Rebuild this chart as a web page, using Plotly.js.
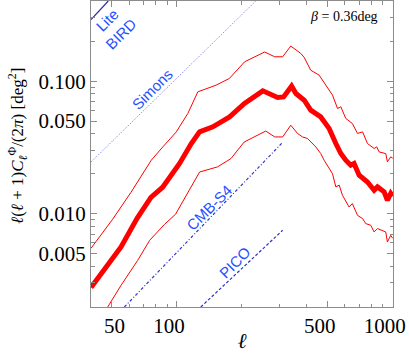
<!DOCTYPE html>
<html>
<head>
<meta charset="utf-8">
<script src="https://cdn.plot.ly/plotly-3.0.1.min.js"></script>
<style>html,body{margin:0;padding:0;background:#fff;}#chart{width:409px;height:353px;}</style>
</head>
<body>
<div id="chart"></div>
<script>
// ---- data ----
const ellMid = [40, 47.8, 55.1, 65.4, 75.8, 85.9, 90.9, 102.9, 116.6, 127.4, 146.8, 175.4, 205.7, 250, 293, 312, 340, 356, 389, 417, 464, 508, 545, 575, 606, 639, 662, 699, 764, 820, 850, 912, 945, 979, 1000];
const cMid   = [0.00277, 0.00406, 0.0056, 0.0092, 0.01327, 0.0158, 0.01787, 0.0239, 0.0338, 0.0414, 0.0452, 0.0537, 0.0678, 0.0845, 0.0753, 0.076, 0.0917, 0.0807, 0.0718, 0.0604, 0.0537, 0.0438, 0.0338, 0.0284, 0.0253, 0.0232, 0.0239, 0.0195, 0.0173, 0.015, 0.0159, 0.0146, 0.0126, 0.0142, 0.0135];

const ellUp = [40, 50.4, 61.3, 76.1, 86.1, 99.4, 112.4, 125, 152, 175, 206, 255, 284, 309, 337, 375, 389, 417, 456, 499, 526, 555, 575, 606, 650, 687, 725, 764, 820, 843, 865, 928, 945, 979, 1000];
const cUp   = [0.00547, 0.00906, 0.01449, 0.0253, 0.0319, 0.0414, 0.057, 0.083, 0.0933, 0.1048, 0.14, 0.166, 0.1528, 0.1528, 0.184, 0.162, 0.151, 0.121, 0.111, 0.0896, 0.0784, 0.0622, 0.064, 0.0523, 0.0479, 0.0403, 0.0414, 0.0338, 0.031, 0.0319, 0.0292, 0.0284, 0.0246, 0.0268, 0.0262];

const ellLo = [40, 47.8, 55.1, 65.8, 74.8, 87.7, 98.6, 107.4, 116.3, 127.4, 154, 178, 205, 258, 284, 309, 337, 362, 382, 403, 440, 464, 481, 526, 545, 565, 585, 606, 628, 650, 687, 725, 750, 791, 820, 850, 928, 945, 979, 1000];
const cLo   = [0.00135, 0.00197, 0.00287, 0.00443, 0.00628, 0.0083, 0.00989, 0.0126, 0.0155, 0.0206, 0.0225, 0.026, 0.0347, 0.042, 0.0379, 0.0379, 0.0465, 0.0403, 0.0379, 0.0369, 0.0319, 0.0284, 0.0253, 0.02, 0.0159, 0.0164, 0.01375, 0.01225, 0.0112, 0.0119, 0.0097, 0.00916, 0.0084, 0.00816, 0.00727, 0.0077, 0.00727, 0.0061, 0.00685, 0.0065];

// experiment sensitivity lines (two end points each)
const ellLiteBIRD = [40, 48.1];     const cLiteBIRD = [0.292, 0.403];
const ellSimons   = [40, 232];      const cSimons   = [0.0245, 0.403];
const ellCMBS4    = [57.1, 310];    const cCMBS4    = [0.00197, 0.0347];
const ellPICO     = [129, 309];     const cPICO     = [0.00197, 0.00748];

// ticks
const xTickVals = [50, 100, 500, 1000];
const xTickText = ['\u200350', '100', '500', '1000'];
const xMinorVals = [40, 60, 70, 80, 90, 200, 300, 400, 600, 700, 800, 900];
const yTickVals = [0.005, 0.01, 0.05, 0.1];
const yTickText = ['0.005', '0.010', '0.050', '0.100'];
const yMinorVals = [0.002, 0.003, 0.004, 0.006, 0.007, 0.008, 0.009, 0.02, 0.03, 0.04, 0.06, 0.07, 0.08, 0.09, 0.2, 0.3, 0.4];

const labelBlue = '#1f50ff';
const serif = 'Liberation Serif, Times New Roman, serif';
const sans = 'Liberation Sans, Arial, sans-serif';

const traces = [
  {x: ellLiteBIRD, y: cLiteBIRD, mode: 'lines', line: {color: '#2a2a9a', width: 1.2}},
  {x: ellSimons, y: cSimons, mode: 'lines', line: {color: '#6a6ae0', width: 1, dash: '1px,1.6px'}},
  {x: ellCMBS4, y: cCMBS4, mode: 'lines', line: {color: '#3535c8', width: 1.2, dash: '3px,2px,1px,2px'}},
  {x: ellPICO, y: cPICO, mode: 'lines', line: {color: '#3030c0', width: 1.2, dash: '3px,2px'}},
  {x: ellUp, y: cUp, mode: 'lines', line: {color: '#ff0000', width: 1}},
  {x: ellLo, y: cLo, mode: 'lines', line: {color: '#ff0000', width: 1}},
  {x: ellMid, y: cMid, mode: 'lines', line: {color: '#ff0000', width: 5}}
];

const axisCommon = {
  type: 'log', showgrid: false, zeroline: false,
  showline: true, linecolor: '#8c8c8c', linewidth: 1, mirror: 'allticks',
  ticks: 'inside', ticklen: 6, tickcolor: '#8c8c8c', tickwidth: 1,
  tickfont: {family: serif, size: 21, color: '#000'},
  tickmode: 'array'
};

function lab(x, y, text, size, fam, color, angle) {
  return {xref: 'paper', yref: 'paper', x: x, y: y, xanchor: 'center', yanchor: 'middle',
          text: text, showarrow: false, textangle: angle,
          font: {family: fam, size: size, color: color}};
}

const layout = {
  width: 409, height: 353,
  margin: {l: 91, r: 16, t: 1, b: 46},
  paper_bgcolor: '#fff', plot_bgcolor: '#fff',
  showlegend: false,
  xaxis: Object.assign({}, axisCommon, {
    range: [Math.log10(40), Math.log10(1003)],
    tickvals: xTickVals, ticktext: xTickText,
    ticklabelshift: -8, ticklabeloverflow: 'allow',
    minor: {ticks: 'inside', ticklen: 3.5, tickcolor: '#8c8c8c', tickvals: xMinorVals},
    title: {text: '<i>ℓ</i>', font: {family: serif, size: 21, color: '#000'}, standoff: 2}
  }),
  yaxis: Object.assign({}, axisCommon, {
    range: [Math.log10(0.00197), Math.log10(0.403)],
    tickvals: yTickVals, ticktext: yTickText,
    minor: {ticks: 'inside', ticklen: 3.5, tickcolor: '#8c8c8c', tickvals: yMinorVals}
  }),
  annotations: [
    lab(-0.243, 0.525, '<i>ℓ</i>(<i>ℓ</i> + 1)<i>C</i><sub><i>ℓ</i></sub><sup>Φ</sup>/(2<i>π</i>) [deg<sup>2</sup>]', 17, serif, '#000', -90),
    lab(0.838, 0.949, '<i>β</i> = 0.36deg', 14, serif, '#000', 0),
    lab(0.075, 0.915, 'Lite<br>BIRD', 15, sans, labelBlue, -45),
    lab(0.201, 0.712, 'Simons', 15, sans, labelBlue, -45),
    lab(0.392, 0.3245, 'CMB-S4', 15, sans, labelBlue, -45),
    lab(0.475, 0.147, 'PICO', 15, sans, labelBlue, -45)
  ]
};

Plotly.newPlot('chart', traces, layout, {staticPlot: true, displayModeBar: false});
</script>
</body>
</html>
